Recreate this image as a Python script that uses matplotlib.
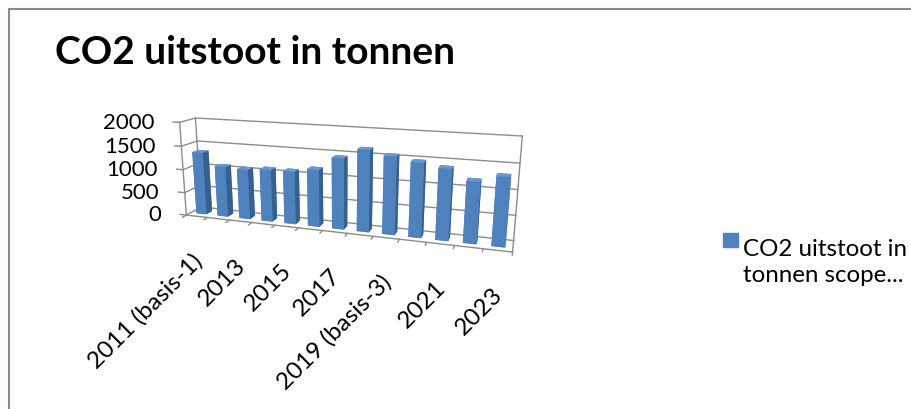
import numpy as np
import matplotlib.pyplot as plt
from matplotlib.transforms import offset_copy
from mpl_toolkits.mplot3d import proj3d

plt.rcParams['font.family'] = ['Lato', 'DejaVu Sans']

years = ['2011 (basis-1)', '2012', '2013', '2014', '2015', '2016', '2017',
         '2018', '2019 (basis-3)', '2020', '2021', '2022', '2023']
co2 = [1350, 1080, 1060, 1100, 1100, 1180, 1450, 1650, 1560, 1480, 1400, 1200, 1330]
zticks = [0, 500, 1000, 1500, 2000]
series = 'CO2 uitstoot in\ntonnen scope...'

fig = plt.figure(figsize=(9.11, 4.10), dpi=100, facecolor='w')
fig.patches.append(plt.Rectangle((9 / 911, -0.1), 1.2, 1 - 10 / 410 + 0.1, transform=fig.transFigure,
                                 fill=False, ec='#8c8c8c', lw=1.5))

ax = fig.add_axes([0.038, 0.145, 0.66, 0.81], projection='3d')
ax.set_proj_type('persp', focal_length=0.32)
ax.view_init(elev=15, azim=-72)
n = len(co2)
xs = np.arange(n)
ax.set_xlim(-0.5, n - 0.5)
ax.set_ylim(0, 1)
ax.set_zlim(0, 2000)
ax.set_box_aspect((13.4, 1.2, 4.0), zoom=1.043)
ax.set_axis_off()

col = '#4F81BD'
faces = ['#4F81BD', '#6D97CC', '#4F81BD', '#4F81BD', '#4F81BD', '#35608F']
bars = ax.bar3d(xs - 0.24, 0.3, 0, 0.48, 0.39, co2, color=faces * n, shade=False, edgecolor='none')
bars.set_clip_on(False)

grid = '#8c8c8c'
x0, x1 = -0.5, n - 0.5
lines = []
for z in zticks:
    lines += ax.plot([x0, x0, x1], [0, 1, 1], [z, z, z], color=grid, lw=1)
    lines += ax.plot([x0, x0 - 0.3], [0, 0], [z, z], color=grid, lw=1)
lines += ax.plot([x0, x0], [0, 0], [0, 2000], color=grid, lw=1)
lines += ax.plot([x0, x0], [1, 1], [0, 2000], color=grid, lw=1)
lines += ax.plot([x1, x1], [1, 1], [0, 2000], color=grid, lw=1)
lines += ax.plot([x0, x1, x1], [0, 0, 1], [0, 0, 0], color=grid, lw=1)
for x in np.arange(n + 1) - 0.5:
    lines += ax.plot([x, x], [0, -0.25], [0, 0], color=grid, lw=1)
for ln in lines:
    ln.set_clip_on(False)

fig.canvas.draw()
M = ax.get_proj()

# z tick labels at the front left edge
px, py, _ = proj3d.proj_transform(np.full(len(zticks), x0 - 0.3), np.zeros(len(zticks)),
                                  np.array(zticks, float), M)
tr = offset_copy(ax.transData, fig=fig, x=-19, y=0, units='dots')
for z, a, b in zip(zticks, px, py):
    ax.text2D(a, b, str(z), transform=tr, ha='right', va='center', fontsize=16)

# category labels, every other year
px, py, _ = proj3d.proj_transform(xs.astype(float), np.zeros(n), np.zeros(n), M)
tr = offset_copy(ax.transData, fig=fig, x=2, y=-40, units='dots')
for i in range(0, n, 2):
    ax.text2D(px[i], py[i], years[i], transform=tr, rotation=45, ha='right', va='center',
              rotation_mode='anchor', fontsize=17.5)

fig.text(55 / 911, 1 - 52 / 410, 'CO2 uitstoot in tonnen', fontsize=28, fontweight='bold', va='center')
fig.patches.append(plt.Rectangle((723 / 911, 1 - 248 / 410), 15 / 911, 14 / 410,
                                 transform=fig.transFigure, color=col))
fig.text(743 / 911, 1 - 282 / 410, series, fontsize=17.4, va='baseline', linespacing=1.3)

fig.savefig('out.png', dpi=100)
